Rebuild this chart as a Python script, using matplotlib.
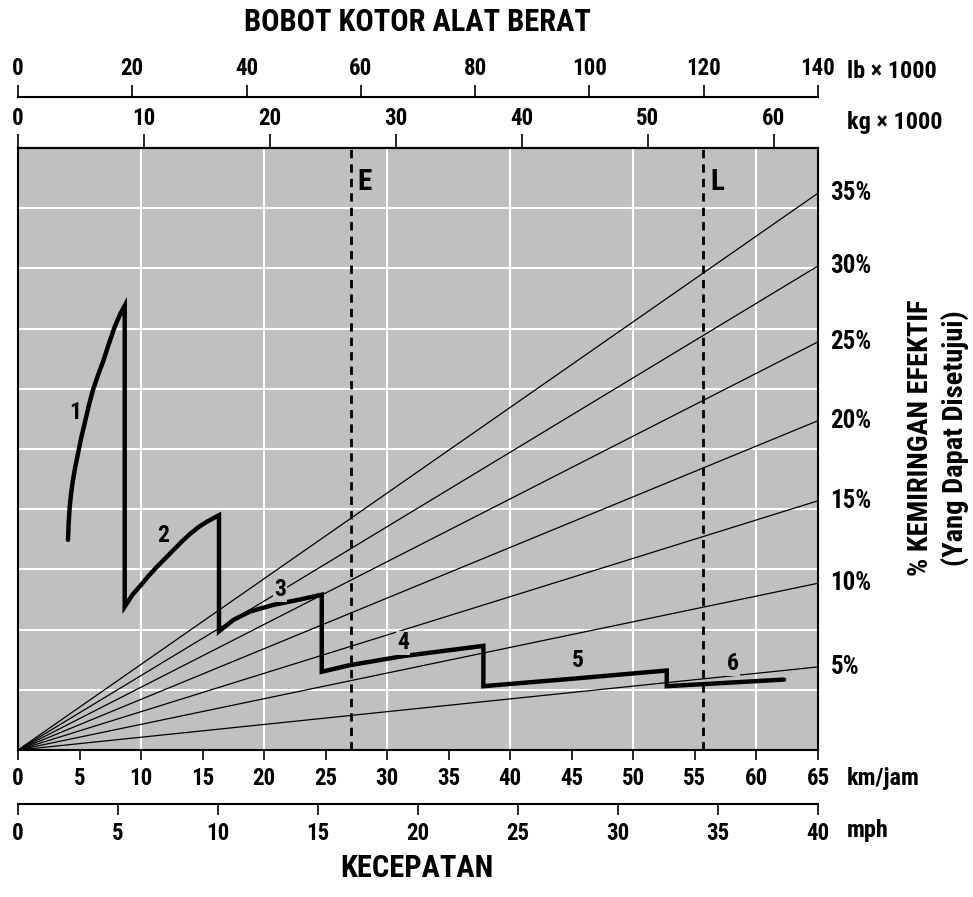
import matplotlib
matplotlib.use('Agg')
import matplotlib.pyplot as plt

plt.rcParams['font.family'] = ['Roboto Condensed', 'Liberation Sans Narrow', 'Liberation Sans', 'DejaVu Sans']
plt.rcParams['font.weight'] = 'bold'

# skala sumbu
kmh_ticks = list(range(0, 70, 5))
mph_ticks = list(range(0, 45, 5))
lb_ticks = list(range(0, 160, 20))
kg_ticks = list(range(0, 70, 10))

# garis kemiringan (ujung di tepi kanan, satuan tarik 0-10)
kemiringan = ['5%', '10%', '15%', '20%', '25%', '30%', '35%']
ujung_kemiringan = [1.38, 2.77, 4.14, 5.47, 6.78, 8.04, 9.25]

# kurva tarik per gigi (km/jam, tarik)
gigi1_x = [4.06, 4.12, 4.20, 4.32, 4.47, 4.66, 4.88, 5.13, 5.42, 5.74, 6.09, 6.49, 6.91, 7.37, 7.86, 8.30, 8.67]
gigi1_y = [3.49, 3.78, 4.04, 4.27, 4.49, 4.71, 4.93, 5.18, 5.43, 5.71, 5.98, 6.22, 6.45, 6.74, 7.03, 7.24, 7.38]
gigi2_x = [8.67, 8.67, 9.34, 9.91, 10.6, 11.27, 11.95, 12.62, 13.3, 13.98, 14.65, 15.33, 16.33]
gigi2_y = [7.38, 2.38, 2.59, 2.72, 2.89, 3.04, 3.18, 3.32, 3.46, 3.59, 3.70, 3.79, 3.90]
gigi3_x = [16.33, 16.33, 17.49, 18.85, 20.74, 22.91, 24.68]
gigi3_y = [3.90, 1.97, 2.16, 2.30, 2.41, 2.50, 2.58]
gigi4_x = [24.68, 24.68, 26.98, 31.31, 37.81]
gigi4_y = [2.58, 1.30, 1.41, 1.56, 1.73]
gigi5_x = [37.81, 37.81, 45.39, 52.71]
gigi5_y = [1.73, 1.06, 1.19, 1.32]
gigi6_x = [52.71, 52.71, 62.24]
gigi6_y = [1.32, 1.06, 1.17]

label_gigi = ['1', '2', '3', '4', '5', '6']
label_x = [4.63, 11.78, 21.29, 31.28, 45.5, 58.09]
label_y = [5.60, 3.57, 2.66, 1.78, 1.48, 1.43]

# bobot kosong (E) dan bermuatan (L), kg x 1000
bobot_kg = [26.4, 54.4]
bobot_label = ['E', 'L']

W, H = 973, 897
fig = plt.figure(figsize=(W / 100, H / 100), dpi=100)

L0, R0, T0, B0 = 18, 818, 148, 750
ax = fig.add_axes([L0 / W, (H - B0) / H, (R0 - L0) / W, (B0 - T0) / H])
ax.set_facecolor('#bfc0c2')
ax.set_xlim(0, 65)
ax.set_ylim(0, 10)

for v in range(10, 65, 10):
    ax.axvline(v, color='white', lw=1.5, zorder=0.5)
for h in range(1, 10):
    ax.axhline(h, color='white', lw=1.5, zorder=0.5)

for lab, yend in zip(kemiringan, ujung_kemiringan):
    ax.plot([0, 65], [0, yend], color='black', lw=0.9, zorder=2)
    ax.annotate(lab, (65, yend), xytext=(9, 0), textcoords='offset points',
                va='center', ha='left', fontsize=18, annotation_clip=False)

kurva_x = gigi1_x + gigi2_x + gigi3_x + gigi4_x + gigi5_x + gigi6_x
kurva_y = gigi1_y + gigi2_y + gigi3_y + gigi4_y + gigi5_y + gigi6_y
ax.plot(kurva_x, kurva_y, color='black', lw=3.2, zorder=4,
        solid_joinstyle='miter', solid_capstyle='round')

for t, x, y in zip(label_gigi, label_x, label_y):
    ax.text(x, y, t, ha='center', va='center', fontsize=17, zorder=5,
            bbox=dict(facecolor='#bfc0c2', edgecolor='none', pad=0.5))

for kg, lab in zip(bobot_kg, bobot_label):
    xk = kg * 65 / 63.5
    ax.axvline(xk, color='black', lw=2, ls=(0, (3, 2.2)), zorder=3)
    ax.text(xk + 0.55, 9.44, lab, ha='left', va='center', fontsize=21)

for s in ax.spines.values():
    s.set_linewidth(1.5)
ax.set_yticks([])
ax.set_xticks(kmh_ticks)
ax.tick_params(axis='x', direction='out', length=7, width=1.2, labelsize=16.5, pad=5)

sec = ax.secondary_xaxis('top', functions=(lambda k: k * 63.5 / 65, lambda g: g * 65 / 63.5))
sec.set_xticks(kg_ticks)
sec.tick_params(direction='out', length=10, width=1.2, labelsize=16.5, pad=3)
sec.spines['top'].set_linewidth(1.5)

# sumbu lb
ax_lb = fig.add_axes([L0 / W, (H - 97) / H, (R0 - L0) / W, 1e-6])
ax_lb.set_xlim(0, 140)
ax_lb.set_xticks(lb_ticks)
ax_lb.set_yticks([])
for k in ['left', 'right', 'bottom']:
    ax_lb.spines[k].set_visible(False)
ax_lb.spines['top'].set_linewidth(1.5)
ax_lb.xaxis.set_ticks_position('top')
ax_lb.tick_params(axis='x', direction='out', length=9, width=1.2, labelsize=16.5, pad=3)
ax_lb.patch.set_visible(False)

# sumbu mph
ax_mph = fig.add_axes([L0 / W, (H - 804) / H, (R0 - L0) / W, 1e-6])
ax_mph.set_xlim(0, 40)
ax_mph.set_xticks(mph_ticks)
ax_mph.set_yticks([])
for k in ['left', 'right', 'top']:
    ax_mph.spines[k].set_visible(False)
ax_mph.spines['bottom'].set_linewidth(1.5)
ax_mph.tick_params(axis='x', direction='out', length=8, width=1.2, labelsize=16.5, pad=5)
ax_mph.patch.set_visible(False)

fig.text(847 / W, (H - 71) / H, 'lb × 1000', ha='left', va='center', fontsize=17.5)
fig.text(847 / W, (H - 122) / H, 'kg × 1000', ha='left', va='center', fontsize=17.5)
fig.text(847 / W, (H - 778) / H, 'km/jam', ha='left', va='center', fontsize=17.5)
fig.text(847 / W, (H - 830) / H, 'mph', ha='left', va='center', fontsize=17.5)

fig.text(417 / W, (H - 22) / H, 'BOBOT KOTOR ALAT BERAT', ha='center', va='center', fontsize=22)
fig.text(417 / W, (H - 868) / H, 'KECEPATAN', ha='center', va='center', fontsize=22)
fig.text(920 / W, (H - 438) / H, '% KEMIRINGAN EFEKTIF', ha='center', va='center',
         rotation=90, fontsize=20.5)
fig.text(955 / W, (H - 438) / H, '(Yang Dapat Disetujui)', ha='center', va='center',
         rotation=90, fontsize=20.5)

fig.savefig('out.png', dpi=100)
